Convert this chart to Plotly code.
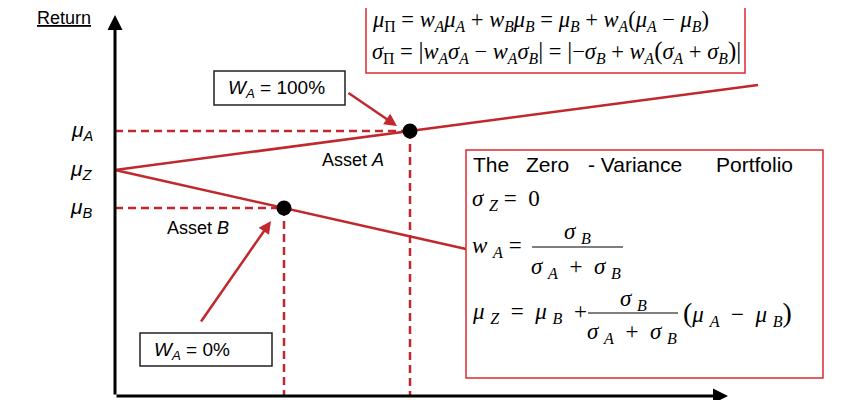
import plotly.graph_objects as go

# ---- data (risk sigma, return mu) in chart units ----
asset_names = ["Asset A", "Asset B"]
sigma_pts = [29.5, 16.9]          # sigma_A, sigma_B
mu_pts = [26.5, 18.8]             # mu_A, mu_B
mu_Z = 22.6
line_A_sigma = [0.0, 29.5, 64.3]  # Z -> A -> extension
line_A_mu = [22.6, 26.5, 31.1]
line_B_sigma = [0.0, 16.9, 35.1]  # Z -> B -> extension
line_B_mu = [22.6, 18.8, 14.7]
y_tick_labels = ["μ<sub>A</sub>", "μ<sub>Z</sub>", "μ<sub>B</sub>"]
y_tick_values = [26.5, 22.6, 18.8]
x_axis_end = 61.3
y_axis_end = 38.1

# ---- layout helpers (screen pixel -> data for placing decorations) ----
W, H = 860, 400
OFF = 8  # page body offset
def X(px):
    return (px - 115) / 10.0
def Y(py):
    return (396 - py) / 10.0

RED = "#C0282E"
BOXRED = "#DD2A30"
SANS = "Liberation Sans, Arial, sans-serif"
SERIF = "Liberation Serif, Times New Roman, serif"
MS = 23

fig = go.Figure()

# dashed guide lines
for s, m in zip(sigma_pts, mu_pts):
    fig.add_trace(go.Scatter(x=[0, s], y=[m, m], mode="lines",
                             line=dict(color=RED, width=2.5, dash="8px,5px"),
                             hoverinfo="skip", showlegend=False))
    fig.add_trace(go.Scatter(x=[s, s], y=[m, 0], mode="lines",
                             line=dict(color=RED, width=2.5, dash="8px,5px"),
                             hoverinfo="skip", showlegend=False))

# portfolio lines
fig.add_trace(go.Scatter(x=line_A_sigma, y=line_A_mu, mode="lines",
                         line=dict(color=RED, width=2.5), showlegend=False))
fig.add_trace(go.Scatter(x=line_B_sigma, y=line_B_mu, mode="lines",
                         line=dict(color=RED, width=2.5), showlegend=False))
# asset points
fig.add_trace(go.Scatter(x=sigma_pts, y=mu_pts, mode="markers",
                         marker=dict(color="black", size=15),
                         text=asset_names, showlegend=False))

shapes = []
annotations = []

def txt(px, py, text, size, family=SANS, anchor="left"):
    annotations.append(dict(x=X(px), y=Y(py), xref="x", yref="y", xanchor=anchor,
                            yanchor="middle", showarrow=False, text=text,
                            font=dict(family=family, size=size, color="black")))

# axes arrows
annotations.append(dict(x=x_axis_end, y=0, ax=0, ay=0, xref="x", yref="y",
                        axref="x", ayref="y", text="", showarrow=True,
                        arrowhead=2, arrowsize=1, arrowwidth=3, arrowcolor="black"))
annotations.append(dict(x=0, y=y_axis_end, ax=0, ay=0, xref="x", yref="y",
                        axref="x", ayref="y", text="", showarrow=True,
                        arrowhead=2, arrowsize=1, arrowwidth=3, arrowcolor="black"))

# Return label
txt(35, 18, "<u>Return</u>", 18)

# y tick labels
for lab, v in zip(y_tick_labels, y_tick_values):
    annotations.append(dict(x=X(95), y=v, xref="x", yref="y", xanchor="right",
                            yanchor="middle", showarrow=False,
                            text="<i>" + lab.replace("<sub>", "<sub><i>").replace("</sub>", "</i></sub>") + "</i>",
                            font=dict(family=SANS, size=21, color="black")))

# Asset labels
txt(320, 160, "Asset <i>A</i>", 18)
txt(165, 228, "Asset <i>B</i>", 18)

# W_A boxes
shapes.append(dict(type="rect", xref="x", yref="y", x0=X(214), x1=X(345), y0=Y(71), y1=Y(105),
                   line=dict(color="#222", width=1.5), fillcolor="white"))
txt(226, 89, "<i>W</i><sub><i>A</i></sub> = 100%", 19)
shapes.append(dict(type="rect", xref="x", yref="y", x0=X(140), x1=X(272), y0=Y(333), y1=Y(366),
                   line=dict(color="#222", width=1.5), fillcolor="white"))
txt(152, 351, "<i>W</i><sub><i>A</i></sub> = 0%", 19)

# red pointer arrows
annotations.append(dict(x=X(397), y=Y(126), ax=X(347), ay=Y(92), xref="x", yref="y",
                        axref="x", ayref="y", text="", showarrow=True, arrowhead=2,
                        arrowsize=1.0, arrowwidth=2.5, arrowcolor=RED))
annotations.append(dict(x=X(271), y=Y(221), ax=X(200), ay=Y(323), xref="x", yref="y",
                        axref="x", ayref="y", text="", showarrow=True, arrowhead=2,
                        arrowsize=1.0, arrowwidth=2.5, arrowcolor=RED))

# top formula box
shapes.append(dict(type="rect", xref="x", yref="y", x0=X(366), x1=X(745), y0=Y(-5), y1=Y(73),
                   line=dict(color=BOXRED, width=1.5), fillcolor="white"))
def i(s):
    return "<i>" + s + "</i>"
def sb(s, ital=True):
    return "<sub>" + (i(s) if ital else s) + "</sub>"
BIG = "<span style='font-size:25px'>%s</span>"
line1 = (i("μ") + sb("Π", False) + " = " + i("w") + sb("A") + i("μ") + sb("A") + " + " +
         i("w") + sb("B") + i("μ") + sb("B") + " = " + i("μ") + sb("B") + " + " +
         i("w") + sb("A") + "(" + i("μ") + sb("A") + " − " + i("μ") + sb("B") + ")")
line2 = (i("σ") + sb("Π", False) + " = " + BIG % "|" + i("w") + sb("A") + i("σ") + sb("A") + " − " +
         i("w") + sb("A") + i("σ") + sb("B") + BIG % "|" + " = " + BIG % "|" + "−" + i("σ") + sb("B") + " + " +
         i("w") + sb("A") + BIG % "(" + i("σ") + sb("A") + " + " + i("σ") + sb("B") + BIG % ")" + BIG % "|")
txt(370, 21, line1, 22.5, SERIF)
txt(370, 52, line2, 22.5, SERIF)

# zero-variance box
shapes.append(dict(type="rect", xref="x", yref="y", x0=X(466), x1=X(823), y0=Y(150), y1=Y(378),
                   line=dict(color=BOXRED, width=1.5), fillcolor="white"))
txt(471, 164, "The", 21)
txt(524, 164, "Zero", 21)
txt(586, 164, "- Variance", 21)
txt(714, 164, "Portfolio", 21)

SP = "&nbsp;"
txt(470, 200, i("σ") + SP + sb("Z") + " = " + SP + "0", MS, SERIF)
# w_A fraction
txt(470, 247, i("w") + SP + sb("A") + SP + "=", MS, SERIF)
txt(577, 233, i("σ") + SP + sb("B"), MS, SERIF, "center")
shapes.append(dict(type="line", xref="x", yref="y", x0=X(532), x1=X(623), y0=Y(247), y1=Y(247),
                   line=dict(color="black", width=1)))
txt(576, 268, i("σ") + SP + sb("A") + SP + " + " + SP + i("σ") + SP + sb("B"), MS, SERIF, "center")
# mu_Z fraction
txt(470, 313, i("μ") + SP + sb("Z") + SP + " = " + SP + i("μ") + SP + sb("B") + SP + " + ", MS, SERIF)
txt(633, 300, i("σ") + SP + sb("B"), MS, SERIF, "center")
shapes.append(dict(type="line", xref="x", yref="y", x0=X(588), x1=X(678), y0=Y(313), y1=Y(313),
                   line=dict(color="black", width=1)))
txt(632, 333, i("σ") + SP + sb("A") + SP + " + " + SP + i("σ") + SP + sb("B"), MS, SERIF, "center")
txt(681, 313, "<span style='font-size:28px'>(</span>" + i("μ") + SP + sb("A") + SP + " − " + SP + i("μ") + SP + sb("B") + "<span style='font-size:28px'>)</span>", MS, SERIF)

# faint page edge
shapes.append(dict(type="line", xref="paper", yref="paper", x0=(854 - OFF)/W, x1=(854 - OFF)/W, y0=0, y1=1,
                   line=dict(color="#e4e4e4", width=2)))

fig.update_layout(
    width=W, height=H,
    margin=dict(l=0, r=0, t=0, b=0),
    paper_bgcolor="white", plot_bgcolor="white",
    xaxis=dict(range=[X(OFF), X(W + OFF)], visible=False, fixedrange=True),
    yaxis=dict(range=[Y(H + OFF), Y(OFF)], visible=False, fixedrange=True),
    shapes=shapes, annotations=annotations, showlegend=False,
)

fig.write_html("out.html")
